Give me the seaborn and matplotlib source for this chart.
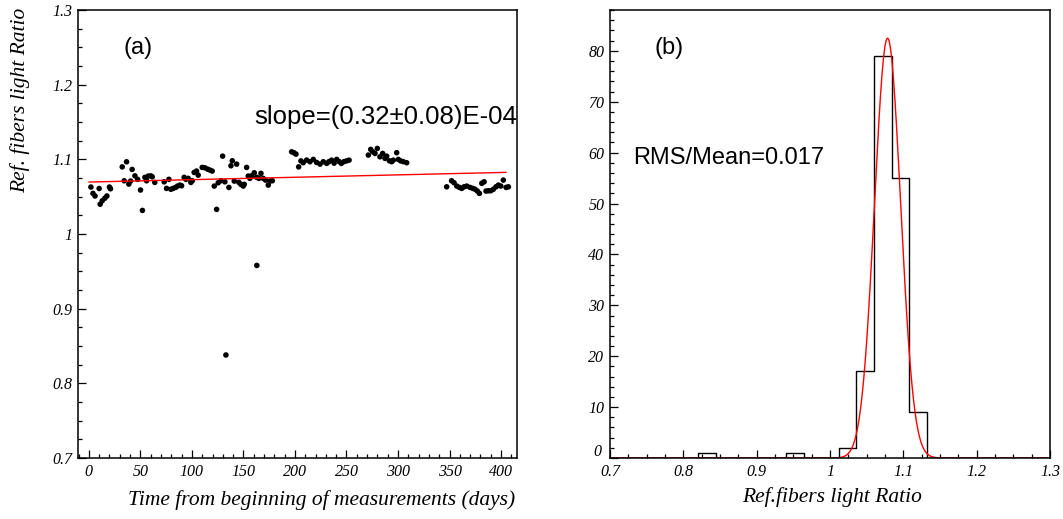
import numpy as np
import pandas as pd
import matplotlib
matplotlib.use("Agg")
import matplotlib.pyplot as plt
import matplotlib.transforms as mtransforms
from matplotlib.ticker import MultipleLocator
import seaborn as sns

days = [2, 4, 6, 10, 11, 13, 15.5, 17.5, 20, 21,
        32.4, 34.3, 36.6, 38.8, 40.5, 42, 44.7, 47.3, 50.1, 52,
        54.4, 56, 57.6, 60.2, 61.5, 64, 73.1, 75.4, 77.7, 79.6,
        81.9, 84.2, 86.1, 88.3, 90, 92.5, 94.2, 96.4, 99, 100.3,
        102.2, 104.5, 106.1, 110, 112.6, 115.2, 117.5, 119.7, 121.7, 124,
        125.5, 128.2, 129.8, 132, 133, 135.9, 137.9, 139.2, 141.1, 143.4,
        145.6, 147.6, 149.8, 150.8, 153.1, 154.7, 156.3, 157.9, 160.5, 162.8,
        163, 165, 167, 169.2, 171.5, 174.1, 175.7, 178,
        196.8, 199, 201, 203.6, 205.8, 208, 211.3, 214.6, 217.8, 221,
        224.3, 227.5, 230.8, 233, 235.5, 238, 240.5, 243, 245, 247.6,
        250, 252.5,
        271.2, 273.5, 275.4, 277.7, 279.9, 282.5, 285.1, 287.4, 289, 291.6,
        293.9, 295.4, 298.7, 300.3, 302.6, 305.1, 308.4,
        347.2, 352, 354.4, 357, 359.5, 361.8, 364.1, 366.7, 369.9, 372.5,
        374.8, 377, 379, 381.3, 383.5, 385.4, 387.7, 390, 392.5, 395.1,
        397.4, 399.7, 402.2, 404.9, 407.1]
ratio = [1.063, 1.0545, 1.051, 1.061, 1.040, 1.0446, 1.048, 1.051, 1.063, 1.0607,
         1.090, 1.0714, 1.0968, 1.067, 1.071, 1.0866, 1.078, 1.0733, 1.059, 1.0317,
         1.076, 1.0714, 1.0777, 1.078, 1.0767, 1.0692, 1.070, 1.0612, 1.0733, 1.060,
         1.0612, 1.0625, 1.0643, 1.0656, 1.0647, 1.076, 1.0733, 1.0746, 1.0692, 1.0714,
         1.0826, 1.0844, 1.079, 1.0893, 1.0888, 1.087, 1.0857, 1.0844, 1.0643, 1.0331,
         1.0687, 1.0714, 1.1044, 1.070, 0.838, 1.0625, 1.0915, 1.0982, 1.071, 1.0937,
         1.0692, 1.0666, 1.0643, 1.0666, 1.0893, 1.0777, 1.0746, 1.078, 1.0821, 1.076,
         0.958, 1.0746, 1.0813, 1.0746, 1.0723, 1.0656, 1.071, 1.0714,
         1.1102, 1.109, 1.1071, 1.090, 1.098, 1.0956, 1.0991, 1.0969, 1.100, 1.096,
         1.0937, 1.0969, 1.0947, 1.097, 1.099, 1.095, 1.100, 1.097, 1.0947, 1.097,
         1.098, 1.099,
         1.1058, 1.1134, 1.1102, 1.108, 1.1147, 1.1035, 1.108, 1.1014, 1.1044, 1.0982,
         1.097, 1.099, 1.109, 1.100, 1.098, 1.097, 1.0956,
         1.0633, 1.0714, 1.0687, 1.0643, 1.0625, 1.0612, 1.0633, 1.0643, 1.0625, 1.0612,
         1.060, 1.0576, 1.0545, 1.068, 1.070, 1.0576, 1.058, 1.058, 1.060, 1.0633,
         1.0656, 1.0643, 1.0723, 1.0625, 1.0633]

# linear fit shown in (a)
fit_a0 = 1.0697
fit_slope = 0.32e-4
fit_t = [0, 405]

# (b) histogram: 25 bins between 0.7 and 1.3, non-empty bins only
hist_lo = [0.820, 0.940, 1.012, 1.036, 1.060, 1.084, 1.108]
hist_counts = [1, 1, 2, 17, 79, 55, 9]

# gaussian fit shown in (b)
g_amp, g_mean, g_sigma = 82.5, 1.0785, 0.0178

sns.set_style("ticks")
plt.rcParams["text.color"] = "black"
plt.rcParams["xtick.color"] = "black"
plt.rcParams["ytick.color"] = "black"
plt.rcParams["axes.labelcolor"] = "black"

serif_it = dict(family="Liberation Serif", style="italic")
sans = dict(family="Liberation Sans")

fig = plt.figure(figsize=(10.63, 5.19), dpi=100)
axa = fig.add_axes([0.0734, 0.1175, 0.413, 0.863])
axb = fig.add_axes([0.5738, 0.1175, 0.414, 0.863])

# ---- panel (a)
df = pd.DataFrame({"day": days, "ratio": ratio})
sns.scatterplot(data=df, x="day", y="ratio", ax=axa, color="black",
                s=16, edgecolor="none", linewidth=0)
fit_df = pd.DataFrame({"t": fit_t, "y": [fit_a0 + fit_slope * t for t in fit_t]})
sns.lineplot(data=fit_df, x="t", y="y", ax=axa, color="red", linewidth=1.0)

axa.set_xlim(-10.5, 415.5)
axa.set_ylim(0.7, 1.3)
axa.set_xticks([0, 50, 100, 150, 200, 250, 300, 350, 400])
axa.set_xticklabels(["0", "50", "100", "150", "200", "250", "300", "350", "400"])
axa.set_yticks([0.7, 0.8, 0.9, 1.0, 1.1, 1.2, 1.3])
axa.set_yticklabels(["0.7", "0.8", "0.9", "1", "1.1", "1.2", "1.3"])
axa.xaxis.set_minor_locator(MultipleLocator(10))
axa.yaxis.set_minor_locator(MultipleLocator(0.025))
axa.set_xlabel("")
axa.set_ylabel("")
axa.text(0.137, 0.915, "(a)", transform=axa.transAxes, fontsize=17,
         ha="center", va="center", **sans)
axa.text(0.401, 0.761, "slope=(0.32±0.08)E-04", transform=axa.transAxes,
         fontsize=18.5, ha="left", va="center", clip_on=False, **sans)

# ---- panel (b)
edges = list(np.linspace(0.7, 1.3, 26))
hdf = pd.DataFrame({"x": [lo + 0.012 for lo in hist_lo], "n": hist_counts})
sns.histplot(data=hdf, x="x", weights="n", bins=edges, element="step",
             fill=False, color="black", linewidth=1.0, ax=axb)
gx = np.linspace(0.7, 1.3, 600)
gdf = pd.DataFrame({"x": gx, "y": g_amp * np.exp(-0.5 * ((gx - g_mean) / g_sigma) ** 2)})
sns.lineplot(data=gdf, x="x", y="y", ax=axb, color="red", linewidth=1.0)

axb.set_xlim(0.7, 1.3)
axb.set_ylim(0, 88)
axb.set_xticks([0.7, 0.8, 0.9, 1.0, 1.1, 1.2, 1.3])
axb.set_xticklabels(["0.7", "0.8", "0.9", "1", "1.1", "1.2", "1.3"])
axb.set_yticks([0, 10, 20, 30, 40, 50, 60, 70, 80])
axb.set_yticklabels(["0", "10", "20", "30", "40", "50", "60", "70", "80"])
axb.xaxis.set_minor_locator(MultipleLocator(0.025))
axb.yaxis.set_minor_locator(MultipleLocator(2))
axb.set_xlabel("")
axb.set_ylabel("")
axb.text(0.134, 0.915, "(b)", transform=axb.transAxes, fontsize=17,
         ha="center", va="center", **sans)
axb.text(0.052, 0.67, "RMS/Mean=0.017", transform=axb.transAxes,
         fontsize=17, ha="left", va="center", **sans)

for ax in (axa, axb):
    for sp in ax.spines.values():
        sp.set_visible(True)
        sp.set_linewidth(1.1)
        sp.set_color("black")
    ax.tick_params(which="both", direction="in", top=False, right=False,
                   color="black", labelcolor="black", width=0.9)
    ax.tick_params(which="major", length=6, pad=4, labelsize=11.5)
    ax.tick_params(which="minor", length=3)
    for lab in ax.get_xticklabels() + ax.get_yticklabels():
        lab.set_family("Liberation Serif")
        lab.set_style("italic")

# nudge the "0" count label up so it clears the "0.7" below it
zero_lab = axb.get_yticklabels()[0]
zero_lab.set_transform(zero_lab.get_transform()
                       + mtransforms.ScaledTranslation(-2 / 72, 6 / 72, fig.dpi_scale_trans))

fig.text(0.019, 0.986, "Ref. fibers light Ratio", rotation=90,
         ha="center", va="top", fontsize=15.5, **serif_it)
fig.text(0.4845, 0.037, "Time from beginning of measurements (days)",
         ha="right", va="center", fontsize=15.5, **serif_it)
fig.text(0.7827, 0.043, "Ref.fibers light Ratio",
         ha="center", va="center", fontsize=15.5, **serif_it)

fig.savefig("out.png", dpi=100)
